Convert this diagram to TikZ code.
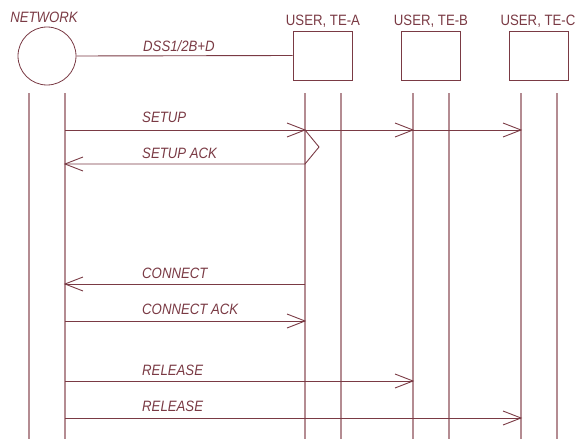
\documentclass[tikz,border=0pt]{standalone}
\usepackage{fontspec}
\setmainfont{Liberation Sans}[FakeStretch=0.88]
\usetikzlibrary{calc}
\definecolor{dk}{HTML}{7A3A44}
\definecolor{lt}{HTML}{B48C92}
\begin{document}
\begin{tikzpicture}[x=1pt,y=-1pt,
  lbl/.style={font=\fontsize{15}{17}\selectfont\itshape, text=dk, inner sep=0pt, anchor=base west},
  hdr/.style={font=\fontsize{15}{17}\selectfont, text=dk, inner sep=0pt, anchor=base},
  life/.style={draw=lt, line width=1.3pt},
  msg/.style={draw=dk, line width=0.9pt},
  tip/.style={draw=dk, line width=0.9pt}]
\useasboundingbox (0,0) rectangle (576,439);
% entities
\node[draw=dk, line width=0.8pt, circle, minimum size=58pt, inner sep=0pt] (net) at (47,56) {};
\node[hdr, font=\fontsize{15}{17}\selectfont\itshape] (netl) at (44,22.5) {NETWORK};
\node[draw=dk, line width=0.8pt, minimum width=59pt, minimum height=49pt, inner sep=0pt] (ta) at (322.5,55.5) {};
\node[draw=dk, line width=0.8pt, minimum width=59pt, minimum height=49pt, inner sep=0pt] (tb) at (430.5,55.5) {};
\node[draw=dk, line width=0.8pt, minimum width=59pt, minimum height=49pt, inner sep=0pt] (tc) at (538.5,55.5) {};
\node[hdr] (tal) at (323,25) {USER, TE-A};
\node[hdr] (tbl) at (431,25) {USER, TE-B};
\node[hdr] (tcl) at (538,25) {USER, TE-C};
\draw[msg] (net.east) -- (ta.west);
\node[lbl] (dss) at (143,51.5) {DSS1/2B+D};
% lifelines
\foreach \n/\x in {n1/29,n2/65,a1/305,a2/341,b1/413,b2/449,c1/521,c2/557}{
  \coordinate (\n t) at (\x,93);
  \coordinate (\n b) at (\x,439);
  \draw[life] (\n t) -- (\n b);
}
% message coordinates
\coordinate (s0) at (65,130);
\coordinate (sa) at (305,130);
\coordinate (sb) at (413,130);
\coordinate (sc) at (521,130);
\coordinate (bend) at (319,147);
\coordinate (ka) at (305,164);
\coordinate (k0) at (65,164);
\coordinate (ca) at (305,284);
\coordinate (c0) at (65,284);
\coordinate (da0) at (65,321);
\coordinate (daa) at (305,321);
\coordinate (r10) at (65,381);
\coordinate (r1b) at (413,381);
\coordinate (r20) at (65,418);
\coordinate (r2c) at (521,418);
% SETUP
\draw[msg] (s0) -- (sc);
\foreach \p in {sa,sb,sc}{\draw[tip] ($(\p)+(-18,-7)$) -- (\p) -- ($(\p)+(-18,7)$);}
\node[lbl] (setup) at (142,122.5) {SETUP};
% SETUP ACK
\draw[msg] (sa) -- (bend) -- (ka) -- (k0);
\draw[tip] ($(k0)+(18,-7)$) -- (k0) -- ($(k0)+(18,7)$);
\node[lbl] (setupack) at (142,158.5) {SETUP ACK};
% CONNECT
\draw[msg] (ca) -- (c0);
\draw[tip] ($(c0)+(18,-7)$) -- (c0) -- ($(c0)+(18,7)$);
\node[lbl] (conn) at (142,278.5) {CONNECT};
% CONNECT ACK
\draw[msg] (da0) -- (daa);
\draw[tip] ($(daa)+(-18,-7)$) -- (daa) -- ($(daa)+(-18,7)$);
\node[lbl] (connack) at (142,314.5) {CONNECT ACK};
% RELEASE 1
\draw[msg] (r10) -- (r1b);
\draw[tip] ($(r1b)+(-18,-7)$) -- (r1b) -- ($(r1b)+(-18,7)$);
\node[lbl] (rel1) at (142,375.5) {RELEASE};
% RELEASE 2
\draw[msg] (r20) -- (r2c);
\draw[tip] ($(r2c)+(-18,-7)$) -- (r2c) -- ($(r2c)+(-18,7)$);
\node[lbl] (rel2) at (142,411.5) {RELEASE};
\end{tikzpicture}
\end{document}
